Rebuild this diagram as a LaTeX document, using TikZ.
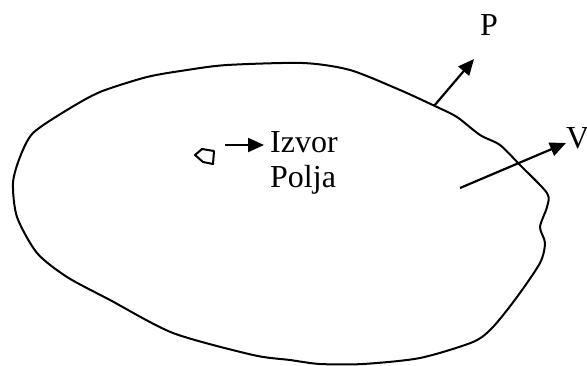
\documentclass[tikz,border=0pt]{standalone}
\usepackage{fontspec}
\setmainfont{Liberation Serif}
\usetikzlibrary{arrows.meta}
\begin{document}
\begin{tikzpicture}[x=1pt,y=-1pt,
  outline/.style={line width=2pt,line join=round},
  vec/.style={line width=2.2pt,-{Triangle[length=16pt,width=14pt]}},
  lbl/.style={inner sep=0pt,anchor=base west,font=\fontsize{32}{35}\selectfont}]
\useasboundingbox (0,0) rectangle (587,365);
% region boundary
\draw[outline] plot[smooth cycle,tension=0.45] coordinates {
 (303,63) (350,70) (400,90) (437,107) (457,117) (480,135) (500,145) (520,165)
 (547,193) (547,207) (540,227) (545,243) (540,263) (517,297) (493,327) (473,342)
 (420,358) (363,364) (320,364) (290,360) (253,355) (173,333) (110,300) (67,277)
 (37,253) (17,217) (13,183) (20,157) (33,133) (67,110) (100,92) (147,77)
 (187,70) (227,65)};
% small source
\draw[outline] (195,155) -- (202,149) -- (214,151) -- (213,164) -- (203,162) -- cycle;
% labels
\node[lbl] (izvor) at (270,152) {Izvor};
\node[lbl] (polja) at (270,187) {Polja};
\node[lbl] (plbl) at (480,35) {P};
\node[lbl] (vlbl) at (566,148) {V};
% connectors
\coordinate (srcA) at (225,145);
\coordinate (srcB) at (264,145);
\coordinate (pbase) at (434,106);
\coordinate (ptip) at (474,59);
\coordinate (vbase) at (460,188);
\coordinate (vtip) at (566,143);
\draw[vec] (srcA) -- (srcB);
\draw[vec] (pbase) -- (ptip);
\draw[vec] (vbase) -- (vtip);
\end{tikzpicture}
\end{document}
